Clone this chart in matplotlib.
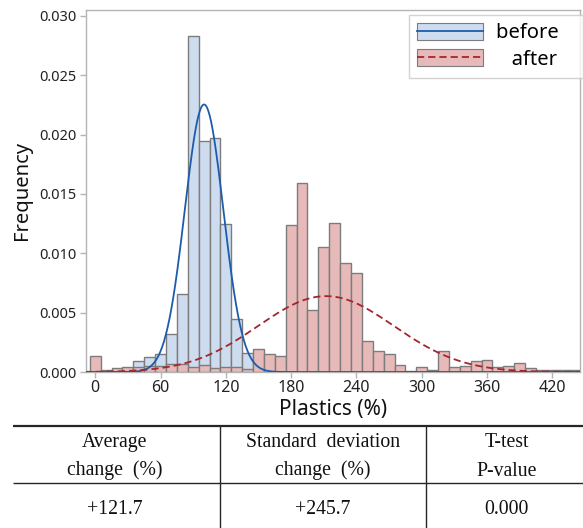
import numpy as np
import matplotlib
matplotlib.use("Agg")
import matplotlib.pyplot as plt
from matplotlib.patches import Patch
from matplotlib.lines import Line2D

# ---------------- data ----------------
bin_width = 10
before_centers = [40, 50, 60, 70, 80, 90, 100, 110, 120, 130, 140, 150]
before_density = [0.0009, 0.0013, 0.00155, 0.0032, 0.0066, 0.0283, 0.0195,
                  0.0197, 0.0125, 0.0045, 0.0016, 0.0002]

after_centers = list(range(0, 450, 10))
after_density = [0.00134, 0.00014, 0.00036, 0.00045, 0.00045, 0.0005, 0.0005,
                 0.0007, 0.0007, 0.00045, 0.00056, 0.0003, 0.0004, 0.0004,
                 0.00025, 0.00196, 0.0015, 0.00136, 0.0124, 0.0159, 0.0052,
                 0.0105, 0.01255, 0.0092, 0.0083, 0.0026, 0.0018, 0.0015,
                 0.0006, 0.0001, 0.00045, 0.0002, 0.0018, 0.00042, 0.00053,
                 0.00096, 0.001, 0.00045, 0.00053, 0.00079, 0.00034, 0.0002,
                 0.0002, 0.00014, 0.00014]

# fitted normal curves (mean, sd)
before_fit = (100.0, 17.7)
after_fit = (212.0, 62.4)

series_labels = ["before", "after"]
x_ticks = [0, 60, 120, 180, 240, 300, 360, 420]
y_ticks = [0.000, 0.005, 0.010, 0.015, 0.020, 0.025, 0.030]

table_header = [["Average", "change  (%)"],
                ["Standard  deviation", "change  (%)"],
                ["T-test", "P-value"]]
table_values = ["+121.7", "+245.7", "0.000"]

# ---------------- style ----------------
plt.rcParams['font.family'] = ['Noto Sans', 'DejaVu Sans']
W, H = 583, 528
fig = plt.figure(figsize=(W / 100, H / 100), dpi=100)

ax_l, ax_r, ax_t, ax_b = 86, 580, 10, 372
ax = fig.add_axes([ax_l / W, (H - ax_b) / H, (ax_r - ax_l) / W, (ax_b - ax_t) / H])

blue_face = '#cddcee'
pink_face = '#e7b9b9'
edge = '#7c7c7c'
blue_line = '#1d5cab'
red_line = '#a3262f'

ax.bar(before_centers, before_density, width=bin_width, color=blue_face,
       edgecolor=edge, linewidth=1.0, zorder=2)
ax.bar(after_centers, after_density, width=bin_width, color=pink_face,
       edgecolor=edge, linewidth=1.0, zorder=3)

xs = np.linspace(-10, 450, 800)
def npdf(x, m, s):
    return np.exp(-0.5 * ((x - m) / s) ** 2) / (s * np.sqrt(2 * np.pi))

ax.plot(xs, npdf(xs, *before_fit), color=blue_line, lw=1.3, zorder=5)
ax.plot(xs, npdf(xs, *after_fit), color=red_line, lw=1.3,
        dashes=(4, 2.2), zorder=5)

ax.set_xlim(-8.5, 445.4)
ax.set_ylim(0, 0.0305)
ax.set_xticks(x_ticks)
ax.set_yticks(y_ticks)
ax.set_yticklabels([f"{v:.3f}" for v in y_ticks])

for s in ax.spines.values():
    s.set_color('#b4b4b4')
    s.set_linewidth(1.0)
ax.tick_params(axis='both', colors='#b4b4b4', labelcolor='#222222',
               labelsize=10.5, length=4, width=1, direction='out')
ax.tick_params(axis='x', labelsize=11.5, pad=2)
ax.tick_params(axis='y', pad=3)

ax.set_ylabel("Frequency", fontsize=14.5, color='#111111', labelpad=5)
ax.set_xlabel("Plastics (%)", fontsize=15, color='#111111', labelpad=2)

# legend
h1 = (Patch(facecolor=blue_face, edgecolor=edge, lw=0.8),
      Line2D([], [], color=blue_line, lw=1.3))
h2 = (Patch(facecolor=pink_face, edgecolor=edge, lw=0.8),
      Line2D([], [], color=red_line, lw=1.3, dashes=(4, 2.2)))
leg = ax.legend([h1, h2], [series_labels[0] + "   ", "   " + series_labels[1] + "   "],
                loc='upper right',
                bbox_to_anchor=((583 - ax_l) / (ax_r - ax_l), 1 - 5 / (ax_b - ax_t)),
                borderaxespad=0, fontsize=14.5, frameon=True, fancybox=False,
                edgecolor='#c8c8c8', handlelength=3.3, handleheight=0.9,
                handletextpad=0.65, labelspacing=0.3, borderpad=0.4)
leg.get_frame().set_linewidth(1.0)
leg.set_zorder(10)

# ---------------- table ----------------
tx = fig.add_axes([0, 0, 1, 1], zorder=-1)
tx.set_xlim(0, W)
tx.set_ylim(H, 0)
tx.axis('off')
tx.plot([12.7, W], [426, 426], color='#262626', lw=1.6, solid_capstyle='butt')
tx.plot([12.7, W], [482.7, 482.7], color='#262626', lw=1.0, solid_capstyle='butt')
for xv in (219.5, 426.3):
    tx.plot([xv, xv], [426, H], color='#262626', lw=1.0)

col_x = [115, 323, 506.5]
serif = ['Liberation Serif', 'DejaVu Serif']
for cx, hdr, val in zip(col_x, table_header, table_values):
    tx.text(cx, 447, hdr[0], ha='center', va='baseline', fontsize=14.2,
            family=serif, color='#111111')
    tx.text(cx, 475.5, hdr[1], ha='center', va='baseline', fontsize=14.2,
            family=serif, color='#111111')
    tx.text(cx, 514, val, ha='center', va='baseline', fontsize=14.2,
            family=serif, color='#111111')

fig.savefig("out.png", dpi=100)
